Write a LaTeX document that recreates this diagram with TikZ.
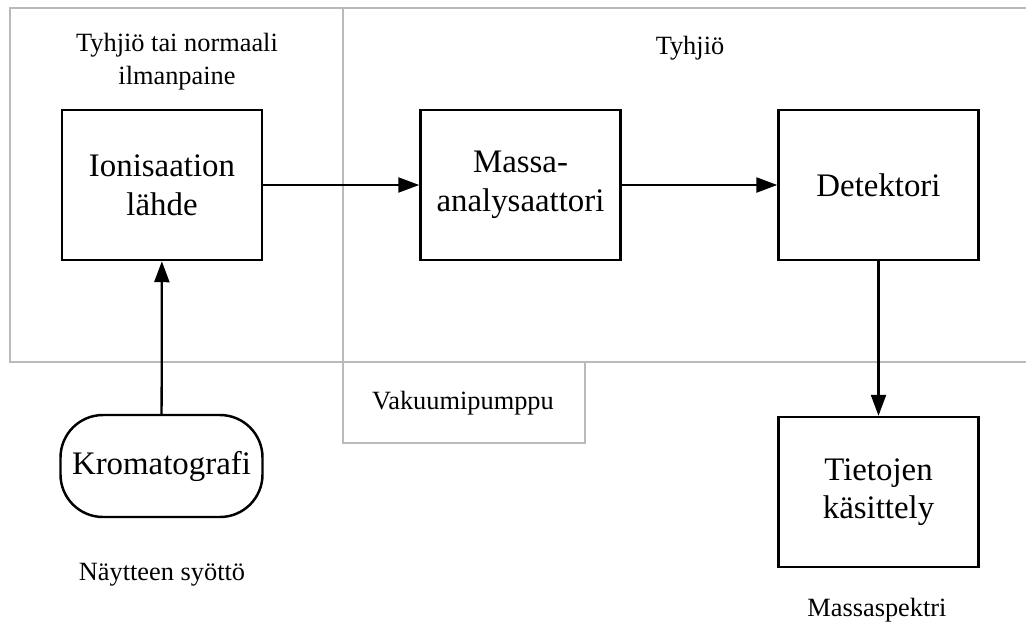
\documentclass[tikz,border=0pt]{standalone}
\usepackage{fontspec}
\setmainfont{Liberation Serif}
\usetikzlibrary{arrows.meta}

\tikzset{
  box/.style={draw, line width=1.4pt, minimum width=4cm, minimum height=3cm, align=center, font=\fontsize{18.7}{22}\selectfont},
  area/.style={draw=black!27, line width=1.1pt},
  note/.style={align=center, font=\fontsize{15}{18.8}\selectfont},
  flow/.style={line width=1.3pt, -{Triangle[length=0.42cm,width=0.3cm]}}
}

\begin{document}
\begin{tikzpicture}
\useasboundingbox (0,0) rectangle (20.52,-12.6);
% alueet
\draw[area] (0.2,-0.16) rectangle (6.86,-7.24);
\draw[area] (6.86,-0.16) -- (20.52,-0.16);
\draw[area] (6.86,-7.24) -- (20.52,-7.24);
\draw[area] (6.86,-7.24) -- (6.86,-8.86) -- (11.7,-8.86) -- (11.7,-7.24);
\node[note] (ilma) at (3.54,-1.23) {Tyhjiö tai normaali\\ilmanpaine};
\node[note] (tyhjio) at (13.8,-0.96) {Tyhjiö};
\node[note] (pumppu) at (9.26,-8.06) {Vakuumipumppu};
% laitteet
\node[box] (lahde) at (3.24,-3.7) {Ionisaation\\lähde};
\node[box] (analysaattori) at (10.41,-3.7) {Massa-\\analysaattori};
\node[box] (detektori) at (17.57,-3.7) {Detektori};
\node[box] (tiedot) at (17.57,-9.84) {Tietojen\\käsittely};
\node[draw, line width=1.4pt, rounded corners=0.85cm, minimum width=4.04cm, minimum height=2.04cm, font=\fontsize{18.7}{22}\selectfont] (kromatografi) at (3.23,-9.32) {Kromatografi};
\node[note] (syotto) at (3.24,-11.5) {Näytteen syöttö};
\node[note] (spektri) at (17.54,-12.2) {Massaspektri};
% nuolet
\draw[flow] (kromatografi) -- (lahde);
\draw[flow] (lahde) -- (analysaattori);
\draw[flow] (analysaattori) -- (detektori);
\draw[flow] (detektori) -- (tiedot);
\end{tikzpicture}
\end{document}
